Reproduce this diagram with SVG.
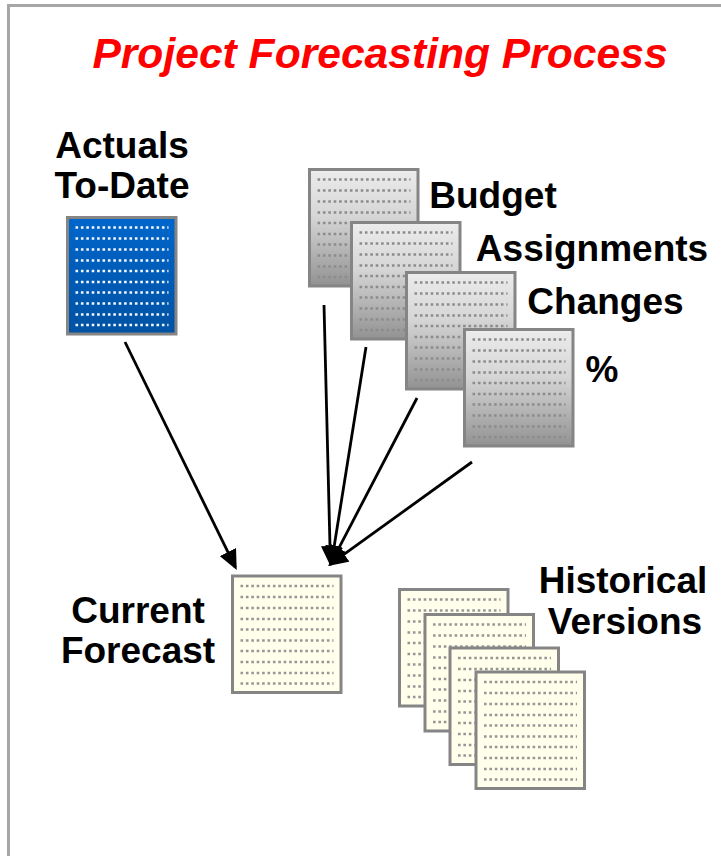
<svg xmlns="http://www.w3.org/2000/svg" width="721" height="856" viewBox="0 0 721 856">
<style>
text{font-family:"Liberation Sans",Arial,sans-serif;font-weight:700;fill:#000;font-size:37px;text-anchor:middle}
.title{font-style:italic;fill:#f00;font-size:42.6px}
.frame{fill:#fff;stroke:#a6a6a6;stroke-width:3}
.sheet{stroke:#858585;stroke-width:3;fill:var(--paper)}
.dots{fill:none;stroke:var(--ink);stroke-width:2.6;stroke-dasharray:2.6 2.8}
.blue{--paper:url(#gb);--ink:#f4f8fc}
.grey{--paper:url(#gg);--ink:#8c8c8c}
.cream{--paper:#ffffec;--ink:#969696}
.conn{fill:none;stroke:#000;stroke-width:2.8;marker-end:url(#ah)}
</style>
<defs>
<linearGradient id="gb" x1="0" y1="0" x2="0" y2="1"><stop offset="0" stop-color="#0066cc"/><stop offset="1" stop-color="#0052a3"/></linearGradient>
<linearGradient id="gg" x1="0" y1="0" x2="0" y2="1"><stop offset="0" stop-color="#ececec"/><stop offset="0.4" stop-color="#d6d6d6"/><stop offset="1" stop-color="#929292"/></linearGradient>
<marker id="ah" viewBox="0 0 20 18" refX="17" refY="9" markerUnits="userSpaceOnUse" markerWidth="20" markerHeight="18" orient="auto"><path d="M0 0L20 9L0 18Z" fill="#000"/></marker>
<g id="doc">
<rect class="sheet" x="1.500" y="1.500" width="108.500" height="116.500"/>
<path class="dots" d="M9.500 11.500H102.500M9.500 22.500H102.500M9.500 33.500H102.500M9.500 44.500H102.500M9.500 55H102.500M9.500 66H102.500M9.500 76.500H102.500M9.500 87.500H102.500M9.500 98.500H102.500M9.500 109H102.500"/>
</g>
</defs>
<rect class="frame" x="8.500" y="5.500" width="720" height="860"/>
<g id="title"><text class="title" x="380" y="68">Project Forecasting Process</text></g>
<g id="connectors">
<path class="conn" d="M125 342L235.400 567.300"/>
<path class="conn" d="M324 305L330.400 563"/>
<path class="conn" d="M366 347L331.500 563"/>
<path class="conn" d="M417 398L330.900 563.300"/>
<path class="conn" d="M472 462L330.400 564.200"/>
</g>
<g id="actuals" class="blue"><use href="#doc" x="66" y="216"/><text x="122" y="158">Actuals</text><text x="122" y="198">To-Date</text></g>
<g id="budget" class="grey"><use href="#doc" x="308" y="168"/><text x="493" y="208">Budget</text></g>
<g id="assignments" class="grey"><use href="#doc" x="350" y="221"/><text x="592" y="261">Assignments</text></g>
<g id="changes" class="grey"><use href="#doc" x="405" y="271"/><text x="605.500" y="314">Changes</text></g>
<g id="percent" class="grey"><use href="#doc" x="463" y="328"/><text x="602" y="382">%</text></g>
<g id="current" class="cream"><use href="#doc" x="231" y="574.500"/><text x="138" y="623">Current</text><text x="138" y="663">Forecast</text></g>
<g id="historical" class="cream"><use href="#doc" x="398" y="588"/><use href="#doc" x="423.500" y="613"/><use href="#doc" x="448.500" y="646.500"/><use href="#doc" x="474.500" y="670.500"/><text x="623" y="593">Historical</text><text x="625" y="634">Versions</text></g>
</svg>
